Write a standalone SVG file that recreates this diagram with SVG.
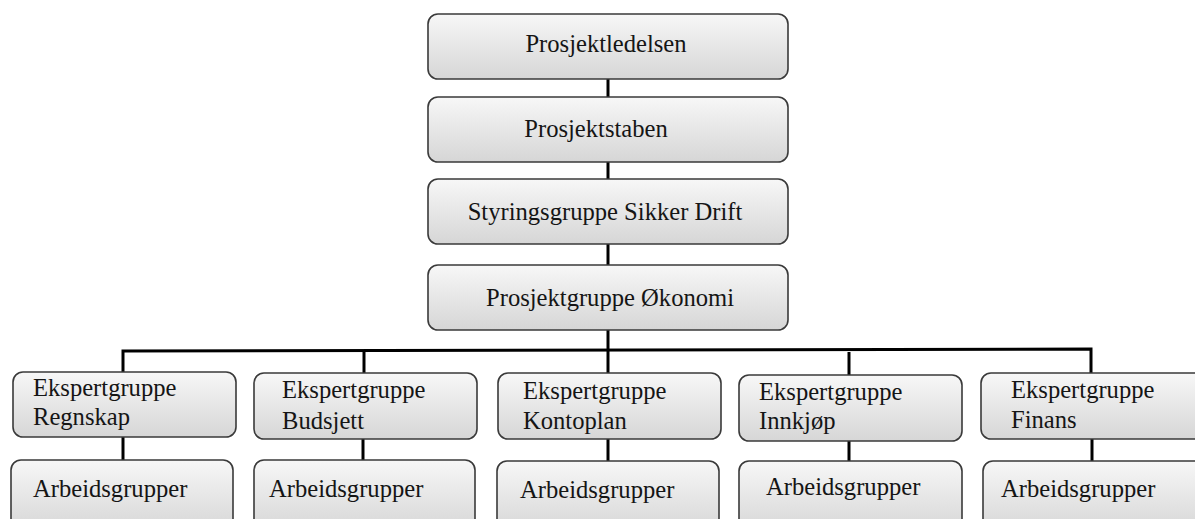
<svg xmlns="http://www.w3.org/2000/svg" width="1195" height="519" viewBox="0 0 1195 519">
<style>
.box{fill:url(#g);stroke:#3a3a3a;stroke-width:1.6}
.ln{stroke:#000;stroke-width:3;fill:none}
text{font-family:"Liberation Serif","Times New Roman",serif;font-size:24.6px;fill:#151515}
.c{text-anchor:middle}
</style>
<defs>
<linearGradient id="g" x1="0" y1="0" x2="0" y2="1">
<stop offset="0" stop-color="#f7f7f7"/>
<stop offset="1" stop-color="#d6d6d6"/>
</linearGradient>
</defs>
<rect width="1195" height="519" fill="#fff"/>
<g id="connectors">
<line class="ln" x1="608" y1="79" x2="608" y2="97"/>
<line class="ln" x1="608" y1="162" x2="608" y2="179"/>
<line class="ln" x1="608" y1="244" x2="608" y2="265"/>
<line class="ln" x1="608" y1="330" x2="608" y2="373"/>
<path class="ln" d="M123 372 V351 L1091 349 V373"/>
<line class="ln" x1="364" y1="351" x2="364" y2="373"/>
<line class="ln" x1="849" y1="352" x2="849" y2="375"/>
<line class="ln" x1="123" y1="437" x2="123" y2="460"/>
<line class="ln" x1="363" y1="439" x2="363" y2="460"/>
<line class="ln" x1="608" y1="439" x2="608" y2="461"/>
<line class="ln" x1="849" y1="441" x2="849" y2="461"/>
<line class="ln" x1="1092" y1="439" x2="1092" y2="461"/>
</g>
<g id="n1"><rect class="box" x="428" y="14" width="360" height="65" rx="10"/><text class="c" x="606" y="52">Prosjektledelsen</text></g>
<g id="n2"><rect class="box" x="428" y="97" width="360" height="65" rx="10"/><text class="c" x="596" y="137">Prosjektstaben</text></g>
<g id="n3"><rect class="box" x="428" y="179" width="360" height="65" rx="10"/><text class="c" x="605" y="220">Styringsgruppe Sikker Drift</text></g>
<g id="n4"><rect class="box" x="428" y="265" width="360" height="65" rx="10"/><text class="c" x="610" y="306">Prosjektgruppe Økonomi</text></g>
<g id="e1"><rect class="box" x="13" y="372" width="223" height="65" rx="10"/><text x="33" y="396">Ekspertgruppe</text><text x="33" y="425">Regnskap</text></g>
<g id="e2"><rect class="box" x="254" y="373" width="223" height="66" rx="10"/><text x="282" y="398">Ekspertgruppe</text><text x="282" y="429">Budsjett</text></g>
<g id="e3"><rect class="box" x="498" y="373" width="223" height="66" rx="10"/><text x="523" y="399">Ekspertgruppe</text><text x="523" y="429">Kontoplan</text></g>
<g id="e4"><rect class="box" x="739" y="375" width="223" height="66" rx="10"/><text x="759" y="400">Ekspertgruppe</text><text x="759" y="429">Innkjøp</text></g>
<g id="e5"><rect class="box" x="981" y="373" width="230" height="66" rx="10"/><text x="1011" y="398">Ekspertgruppe</text><text x="1011" y="428">Finans</text></g>
<g id="a1"><rect class="box" x="11" y="460" width="222" height="72" rx="10"/><text x="33" y="497">Arbeidsgrupper</text></g>
<g id="a2"><rect class="box" x="254" y="460" width="221" height="72" rx="10"/><text x="269" y="497">Arbeidsgrupper</text></g>
<g id="a3"><rect class="box" x="497" y="461" width="222" height="72" rx="10"/><text x="520" y="498">Arbeidsgrupper</text></g>
<g id="a4"><rect class="box" x="739" y="461" width="223" height="72" rx="10"/><text x="766" y="495">Arbeidsgrupper</text></g>
<g id="a5"><rect class="box" x="983" y="461" width="230" height="72" rx="10"/><text x="1001" y="497">Arbeidsgrupper</text></g>
</svg>
